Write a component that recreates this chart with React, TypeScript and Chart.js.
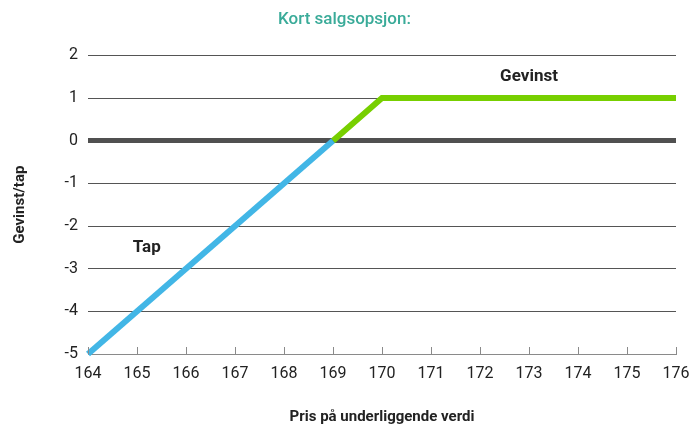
import React, { useEffect, useRef } from "react";
import { Chart, registerables } from "chart.js";

Chart.register(...registerables);

const TITLE = "Kort salgsopsjon:";
const X_TITLE = "Pris på underliggende verdi";
const Y_TITLE = "Gevinst/tap";

const lossX = [164, 169];
const lossY = [-5, 0];
const gainX = [169, 170, 176];
const gainY = [0, 1, 1];

const annotations = [
  { text: "Gevinst", x: 173, y: 1.5 },
  { text: "Tap", x: 165.2, y: -2.5 },
];

const FONT = "Roboto, 'DejaVu Sans', sans-serif";

const upTicksAndLabels = {
  id: "upTicksAndLabels",
  afterDatasetsDraw(chart: any) {
    const ctx = chart.ctx;
    const xs = chart.scales.x;
    const ys = chart.scales.y;
    ctx.save();
    ctx.strokeStyle = "#8a8a8a";
    ctx.lineWidth = 1;
    const yb = ys.getPixelForValue(-5);
    for (let v = 164; v <= 176; v++) {
      const px = Math.round(xs.getPixelForValue(v)) + 0.5;
      ctx.beginPath();
      ctx.moveTo(px, yb);
      ctx.lineTo(px, yb - 7);
      ctx.stroke();
    }
    ctx.fillStyle = "#222";
    ctx.font = `bold 17px ${FONT}`;
    ctx.textAlign = "center";
    ctx.textBaseline = "middle";
    for (const a of annotations) {
      ctx.fillText(a.text, xs.getPixelForValue(a.x), ys.getPixelForValue(a.y));
    }
    ctx.restore();
  },
};

export default function App() {
  const ref = useRef<HTMLCanvasElement>(null);
  useEffect(() => {
    document.body.style.margin = "0";
    const chart = new Chart(ref.current!, {
      type: "line",
      data: {
        datasets: [
          {
            data: lossX.map((x, i) => ({ x, y: lossY[i] })),
            borderColor: "#42b6e6",
            borderWidth: 6,
            pointRadius: 0,
            clip: false,
            tension: 0,
          } as any,
          {
            data: gainX.map((x, i) => ({ x, y: gainY[i] })),
            borderColor: "#77cf00",
            borderWidth: 6,
            pointRadius: 0,
            clip: false,
            tension: 0,
          } as any,
        ],
      },
      options: {
        animation: false,
        responsive: false,
        layout: { padding: { left: 0, right: 0, top: 0, bottom: 0 } },
        plugins: {
          legend: { display: false },
          tooltip: { enabled: false },
          title: {
            display: true,
            text: TITLE,
            color: "#3aab99",
            font: { family: FONT, size: 17, weight: "500" as any },
            padding: { top: 10, bottom: 25 },
          },
        },
        scales: {
          x: {
            type: "linear",
            min: 164,
            max: 176,
            ticks: {
              stepSize: 1,
              padding: 10,
              color: "#222",
              font: { family: FONT, size: 16 },
            },
            grid: { display: false, drawTicks: false },
            border: { display: true, color: "#8a8a8a", width: 1 },
            title: {
              display: true,
              text: X_TITLE,
              color: "#222",
              font: { family: FONT, size: 15, weight: "bold" as any },
              padding: { top: 0, bottom: 2 },
            },
            afterFit(scale: any) {
              scale.height = 74;
              scale.paddingRight = 13;
              scale.paddingLeft = 0;
            },
          } as any,
          y: {
            min: -5,
            max: 2,
            ticks: {
              stepSize: 1,
              padding: 10,
              color: "#222",
              font: { family: FONT, size: 16 },
            },
            grid: {
              drawTicks: false,
              color: (c: any) =>
                c.tick && c.tick.value === 0 ? "#505050" : c.tick && c.tick.value === -5 ? "#8a8a8a" : "#555",
              lineWidth: (c: any) => (c.tick && c.tick.value === 0 ? 5 : 1),
            },
            border: { display: false },
            title: {
              display: true,
              text: Y_TITLE,
              color: "#222",
              font: { family: FONT, size: 15, weight: "bold" as any },
              padding: { top: 11, bottom: 0 },
            },
            afterFit(scale: any) {
              scale.width = 88;
            },
          } as any,
        },
      },
      plugins: [upTicksAndLabels],
    });
    return () => chart.destroy();
  }, []);
  return (
    <div style={{ width: 689, height: 428 }}>
      <canvas ref={ref} width={689} height={428} style={{ display: "block" }} />
    </div>
  );
}
